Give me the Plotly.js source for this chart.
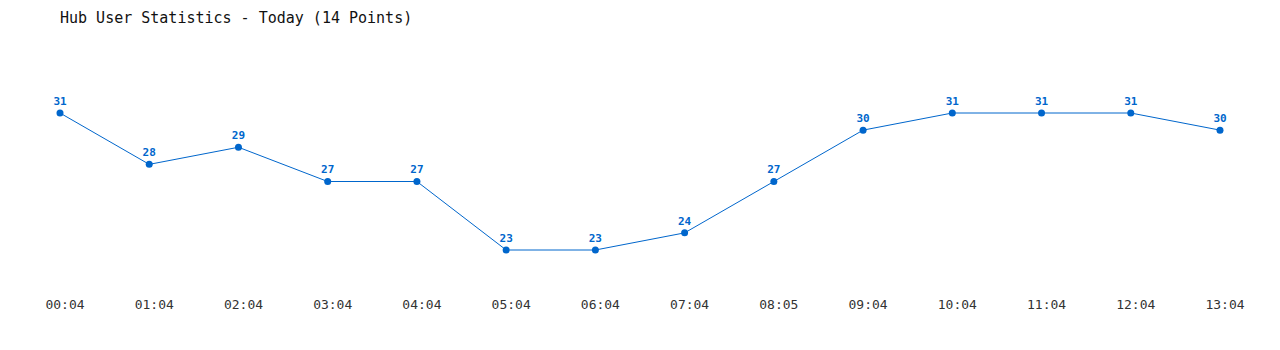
<!DOCTYPE html>
<html><head><meta charset="utf-8">
<script src="https://cdn.plot.ly/plotly-3.0.1.min.js"></script>
<style>html,body{margin:0;padding:0;background:#fff}#chart{width:1280px;height:350px}</style>
</head><body><div id="chart"></div>
<script>
const times = ["00:04","01:04","02:04","03:04","04:04","05:04","06:04","07:04","08:05","09:04","10:04","11:04","12:04","13:04"];
const users = [31,28,29,27,27,23,23,24,27,30,31,31,31,30];
const idx = times.map((_, i) => i);

const trace = {
  x: idx, y: users, type: 'scatter', mode: 'lines+markers+text',
  text: users.map(String), textposition: 'top center',
  textfont: {family: 'DejaVu Sans Mono', size: 11, color: '#0066cc', weight: 'bold'},
  line: {color: '#0066cc', width: 1},
  marker: {color: '#0066cc', size: 7},
  cliponaxis: false, hoverinfo: 'skip'
};
const layout = {
  width: 1280, height: 350,
  margin: {l: 0, r: 0, t: 40, b: 60},
  paper_bgcolor: '#fff', plot_bgcolor: '#fff',
  showlegend: false,
  title: {text: 'Hub User Statistics - Today (14 Points)', x: 60/1280, xanchor: 'left', y: 1 - 18/350, yanchor: 'middle',
    font: {family: 'DejaVu Sans Mono', size: 15, color: '#111'}},
  xaxis: {range: [-0.6724, 13.6724], tickmode: 'array', tickvals: idx, ticktext: times,
    showgrid: false, zeroline: false, showline: false, ticks: '',
    tickfont: {family: 'DejaVu Sans Mono', size: 13, color: '#333'}, ticklabelshift: 5, ticklabelstandoff: 5},
  yaxis: {range: [20.664, 35.263], showgrid: false, zeroline: false, showline: false, showticklabels: false, ticks: ''}
};
Plotly.newPlot('chart', [trace], layout, {staticPlot: true});
</script></body></html>
